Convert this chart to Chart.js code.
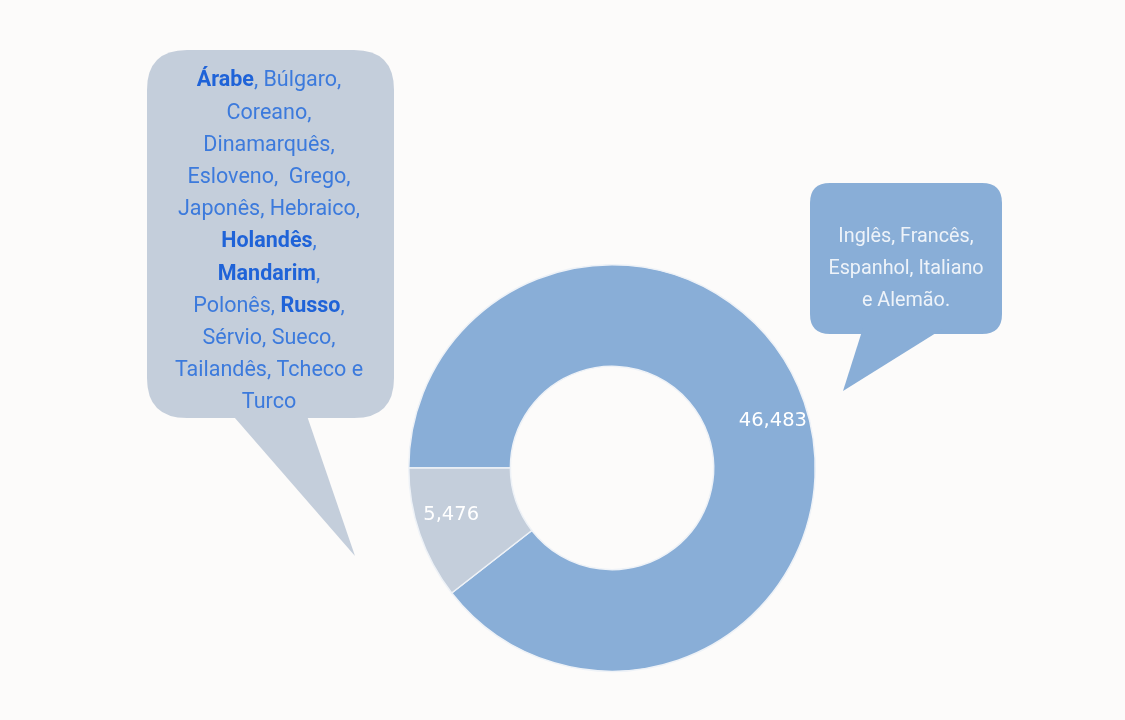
<!DOCTYPE html>
<html>
<head>
<meta charset="utf-8">
<script src="https://cdn.jsdelivr.net/npm/chart.js@4"></script>
<style>
  html, body { margin: 0; padding: 0; background: #fcfbfa; }
  #wrap { width: 1125px; height: 720px; }
</style>
</head>
<body>
<div id="wrap"><canvas id="myChart" width="1125" height="720"></canvas></div>
<script>
const labels = ['Inglês, Francês, Espanhol, Italiano e Alemão', 'Outros idiomas']
const values = [46483, 5476]
const colors = ['#89aed7', '#c4cedb']

// text inside the speech bubbles: each line is a list of [text, bold]
const leftLines = [
  [['Árabe', true], [', Búlgaro,', false]],
  [['Coreano,', false]],
  [['Dinamarquês,', false]],
  [['Esloveno,  Grego,', false]],
  [['Japonês, Hebraico,', false]],
  [['Holandês', true], [',', false]],
  [['Mandarim', true], [',', false]],
  [['Polonês, ', false], ['Russo', true], [',', false]],
  [['Sérvio, Sueco,', false]],
  [['Tailandês, Tcheco e', false]],
  [['Turco', false]]
]
const rightLines = ['Inglês, Francês,', 'Espanhol, Italiano', 'e Alemão.']

function roundRect(c, x, y, w, h, r) {
  c.moveTo(x + r, y)
  c.lineTo(x + w - r, y)
  c.quadraticCurveTo(x + w, y, x + w, y + r)
  c.lineTo(x + w, y + h - r)
  c.quadraticCurveTo(x + w, y + h, x + w - r, y + h)
  c.lineTo(x + r, y + h)
  c.quadraticCurveTo(x, y + h, x, y + h - r)
  c.lineTo(x, y + r)
  c.quadraticCurveTo(x, y, x + r, y)
}

function bubble(c, box, tail, fill) {
  c.save()
  c.fillStyle = fill
  c.beginPath()
  roundRect(c, box.x, box.y, box.w, box.h, box.r)
  c.fill()
  c.beginPath()
  c.moveTo(tail[0][0], tail[0][1])
  c.lineTo(tail[1][0], tail[1][1])
  c.lineTo(tail[2][0], tail[2][1])
  c.closePath()
  c.fill()
  c.restore()
}

const bubbles = {
  id: 'bubbles',
  beforeDraw(chart) {
    const c = chart.ctx
    c.save()
    c.fillStyle = '#fcfbfa'
    c.fillRect(0, 0, chart.width, chart.height)
    c.restore()

    // left bubble
    bubble(c, { x: 147, y: 50, w: 247, h: 368, r: 40 },
      [[228, 410], [305, 410], [355, 556]], '#c4cedb')
    c.save()
    c.textBaseline = 'middle'
    c.textAlign = 'left'
    const cx = 269
    leftLines.forEach((line, i) => {
      const y = 81 + i * 32.2
      let total = 0
      line.forEach(([t, b]) => {
        c.font = (b ? 'bold ' : '') + '21.5px Roboto'
        total += c.measureText(t).width
      })
      let x = cx - total / 2
      line.forEach(([t, b]) => {
        c.font = (b ? 'bold ' : '') + '21.5px Roboto'
        c.fillStyle = b ? '#1f63d8' : '#3c7adc'
        c.fillText(t, x, y)
        x += c.measureText(t).width
      })
    })
    c.restore()

    // right bubble
    bubble(c, { x: 810, y: 183, w: 192, h: 151, r: 20 },
      [[863, 328], [944, 328], [843, 391]], '#89aed7')
    c.save()
    c.textBaseline = 'middle'
    c.textAlign = 'center'
    c.font = '19.8px Roboto'
    c.fillStyle = '#eef3f9'
    rightLines.forEach((t, i) => c.fillText(t, 906, 237 + i * 32))
    c.restore()
  }
}

// value labels on the ring
const sliceValues = {
  id: 'sliceValues',
  afterDatasetsDraw(chart) {
    const c = chart.ctx
    const meta = chart.getDatasetMeta(0)
    c.save()
    c.font = '19.5px "DejaVu Sans"'
    c.fillStyle = '#ffffff'
    c.textAlign = 'center'
    c.textBaseline = 'middle'
    meta.data.forEach((arc, i) => {
      const p = arc.getProps(['x', 'y', 'startAngle', 'endAngle', 'innerRadius', 'outerRadius'])
      const a = (p.startAngle + p.endAngle) / 2 + 0.045
      const r = p.innerRadius + (p.outerRadius - p.innerRadius) * 0.65
      c.fillText(values[i].toLocaleString('en-US'), p.x + Math.cos(a) * r, p.y + Math.sin(a) * r)
    })
    c.restore()
  }
}

const ctx = document.getElementById('myChart').getContext('2d')
const myChart = new Chart(ctx, {
  type: 'doughnut',
  data: {
    labels: labels,
    datasets: [{
      data: values,
      backgroundColor: colors,
      borderColor: '#eef2f7',
      borderWidth: 1.5
    }]
  },
  options: {
    responsive: false,
    animation: false,
    rotation: 270,
    cutout: '50%',
    layout: { padding: { left: 408, right: 309, top: 264, bottom: 48 } },
    plugins: {
      legend: { display: false },
      tooltip: { enabled: false }
    }
  },
  plugins: [bubbles, sliceValues]
})
</script>
</body>
</html>
